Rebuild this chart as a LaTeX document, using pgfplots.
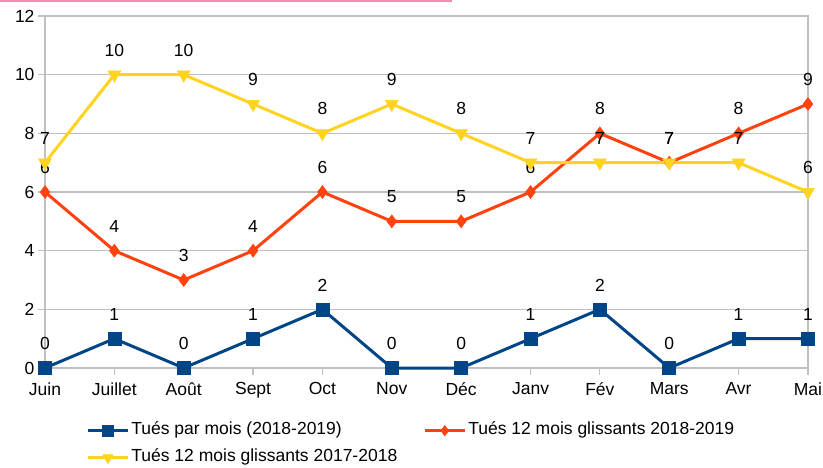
\documentclass[border=0pt]{standalone}
\usepackage{fontspec}
\setmainfont{Liberation Sans}
\usepackage{pgfplots}
\pgfplotsset{compat=1.18}
\definecolor{cblue}{HTML}{004586}
\definecolor{corange}{HTML}{FF420E}
\definecolor{cyellow}{HTML}{FFD320}
\definecolor{cgrid}{HTML}{C0C0C0}
\definecolor{cpink}{HTML}{F28DB0}
\newcommand{\cf}{\fontsize{17.5bp}{21bp}\selectfont}
\begin{document}
\begin{tikzpicture}
\useasboundingbox (-45bp,-100bp) rectangle (778bp,368bp);
\draw[cpink, line width=2bp] (-45bp,367bp) -- (407bp,367bp);
\begin{axis}[
  at={(0,0)}, anchor=south west,
  x=69.36bp, y=29.33bp,
  xmin=0, xmax=11, ymin=0, ymax=12,
  clip=false,
  axis line style={cgrid, line width=1.2bp},
  xtick={0,...,11},
  xticklabels={Juin,Juillet,Août,Sept,Oct,Nov,Déc,Janv,Fév,Mars,Avr,Mai},
  ytick={0,2,...,12},
  xtick pos=bottom, ytick pos=left,
  tick align=outside,
  major tick length=7bp,
  tick style={cgrid, line width=1.2bp},
  ymajorgrids,
  grid style={cgrid, line width=1.2bp},
  tick label style={font=\cf, text=black},
  xticklabel style={yshift=-4bp},
  /pgf/number format/assume math mode=true,
  every node near coord/.append style={font=\cf, text=black, inner sep=0pt, yshift=18bp},
  legend columns=2,
  legend cell align=left,
  legend style={at={(0.0540,-0.15)}, anchor=north west, draw=none, fill=none, inner sep=0pt, font=\cf,
    /tikz/column 2/.style={column sep=24bp},
    /tikz/every node/.append style={text height=12bp, text depth=3.5bp},
    row sep=7.5bp},
  legend image code/.code={\draw[mark repeat=2,mark phase=2,#1,every mark/.append style={scale=0.8}] plot coordinates {(0bp,0bp) (20bp,0bp) (40bp,0bp)};},
]
\addplot[cblue, line width=3bp, mark=square*, mark size=6.5bp, mark options={solid, line width=0.5bp}, nodes near coords]
  coordinates {(0,0) (1,1) (2,0) (3,1) (4,2) (5,0) (6,0) (7,1) (8,2) (9,0) (10,1) (11,1)};
\addlegendentry{Tués par mois (2018-2019)}
\addplot[corange, line width=3bp, mark=diamond*, mark size=6.5bp, mark options={solid, line width=0.5bp}, nodes near coords]
  coordinates {(0,6) (1,4) (2,3) (3,4) (4,6) (5,5) (6,5) (7,6) (8,8) (9,7) (10,8) (11,9)};
\addlegendentry{Tués 12 mois glissants 2018-2019}
\addplot[cyellow, line width=3bp, mark=triangle*, mark size=7.5bp, mark options={solid, rotate=180, line width=0.5bp}, nodes near coords]
  coordinates {(0,7) (1,10) (2,10) (3,9) (4,8) (5,9) (6,8) (7,7) (8,7) (9,7) (10,7) (11,6)};
\addlegendentry{Tués 12 mois glissants 2017-2018}
\end{axis}
\end{tikzpicture}
\end{document}
